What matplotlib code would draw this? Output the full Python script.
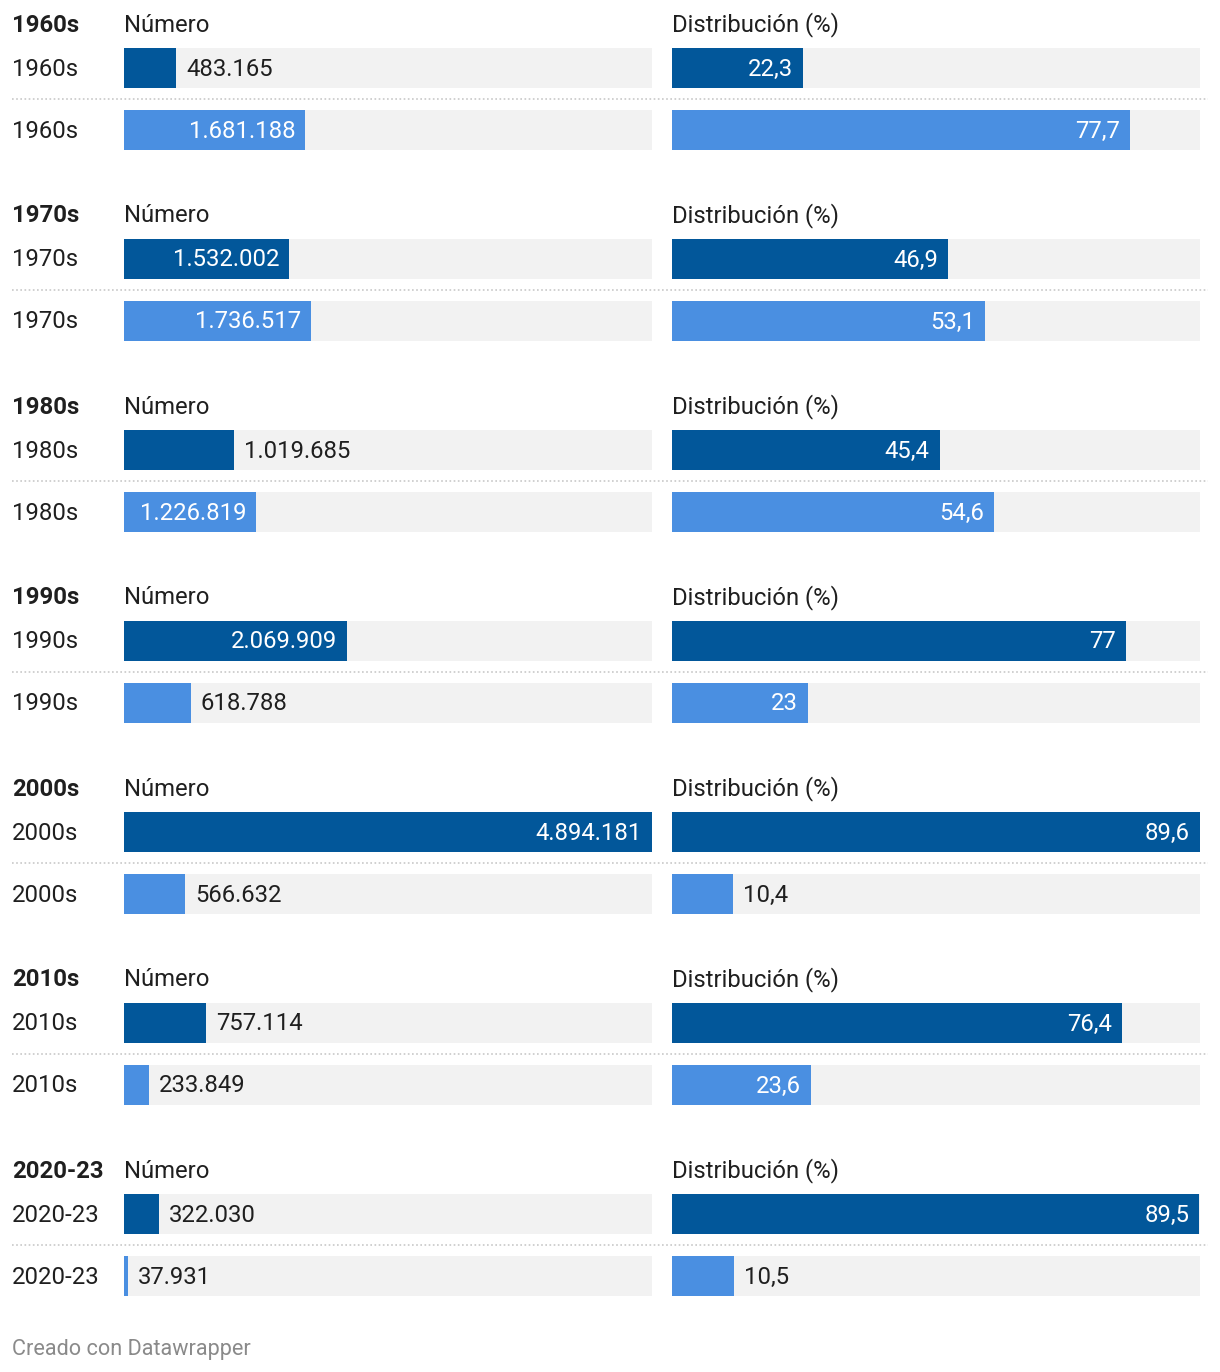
import matplotlib.pyplot as plt
from matplotlib.transforms import offset_copy

plt.rcParams['font.family'] = ['Roboto', 'DejaVu Sans']

decades = ['1960s', '1970s', '1980s', '1990s', '2000s', '2010s', '2020-23']
numero_a = [483165, 1532002, 1019685, 2069909, 4894181, 757114, 322030]
numero_b = [1681188, 1736517, 1226819, 618788, 566632, 233849, 37931]
dist_a = [22.3, 46.9, 45.4, 77.0, 89.6, 76.4, 89.5]
dist_b = [77.7, 53.1, 54.6, 23.0, 10.4, 23.6, 10.5]

DARK = '#02579a'
LIGHT = '#4a8fe1'
BG = '#f2f2f2'
TXT = '#1f1f1f'
W, H = 1220, 1372
FS = 17.2


def fmt_num(v):
    return f'{v:,}'.replace(',', '.')


def fmt_pct(v):
    s = f'{v:.1f}'
    if s.endswith('.0'):
        s = s[:-2]
    return s.replace('.', ',')


fig = plt.figure(figsize=(W / 100, H / 100), dpi=100)
canvas_ax = fig.add_axes([0, 0, 1, 1])
canvas_ax.set_xlim(0, W)
canvas_ax.set_ylim(H, 0)
canvas_ax.axis('off')

ax_l = fig.add_axes([124 / W, 0, 528 / W, 1])
ax_r = fig.add_axes([672 / W, 0, 528 / W, 1])
for ax, vmax in ((ax_l, max(numero_a + numero_b)), (ax_r, max(dist_a + dist_b))):
    ax.set_xlim(0, vmax)
    ax.set_ylim(H, 0)
    ax.axis('off')

renderer = fig.canvas.get_renderer()


def draw_bar(ax, y, val, color, label):
    vmax = ax.get_xlim()[1]
    ax.barh(y, vmax, height=40, color=BG, zorder=1)
    ax.barh(y, val, height=40, color=color, zorder=2)
    bar_px = val / vmax * 528
    t = ax.text(val, y + 1, label, fontsize=FS, va='center', zorder=3)
    tw = t.get_window_extent(renderer).width
    if tw + 20 < bar_px:
        t.set_ha('right')
        t.set_color('white')
        t.set_transform(offset_copy(ax.transData, fig=fig, x=-10, y=0, units='dots'))
    else:
        t.set_ha('left')
        t.set_color(TXT)
        t.set_transform(offset_copy(ax.transData, fig=fig, x=10, y=0, units='dots'))


for k, dec in enumerate(decades):
    top = 24 + 191 * k
    y1, y2, ysep = top + 44, top + 106, top + 75
    canvas_ax.text(12, top + 1, dec, fontsize=FS, fontweight='bold', color=TXT, va='center')
    canvas_ax.text(124, top + 1, 'Número', fontsize=FS, color=TXT, va='center')
    canvas_ax.text(672, top + 1, 'Distribución (%)', fontsize=FS, color=TXT, va='center')
    canvas_ax.text(12, y1 + 1, dec, fontsize=FS, color=TXT, va='center')
    canvas_ax.text(12, y2 + 1, dec, fontsize=FS, color=TXT, va='center')
    canvas_ax.plot([12, 1208], [ysep, ysep], color='#c8c8c8', lw=1.2, ls=(0, (1, 1.5)))

    draw_bar(ax_l, y1, numero_a[k], DARK, fmt_num(numero_a[k]))
    draw_bar(ax_l, y2, numero_b[k], LIGHT, fmt_num(numero_b[k]))
    draw_bar(ax_r, y1, dist_a[k], DARK, fmt_pct(dist_a[k]))
    draw_bar(ax_r, y2, dist_b[k], LIGHT, fmt_pct(dist_b[k]))

canvas_ax.text(12, 1349, 'Creado con Datawrapper', fontsize=15.6, color='#8a8a8a', va='center')

fig.savefig('out.png', dpi=100, facecolor='white')
